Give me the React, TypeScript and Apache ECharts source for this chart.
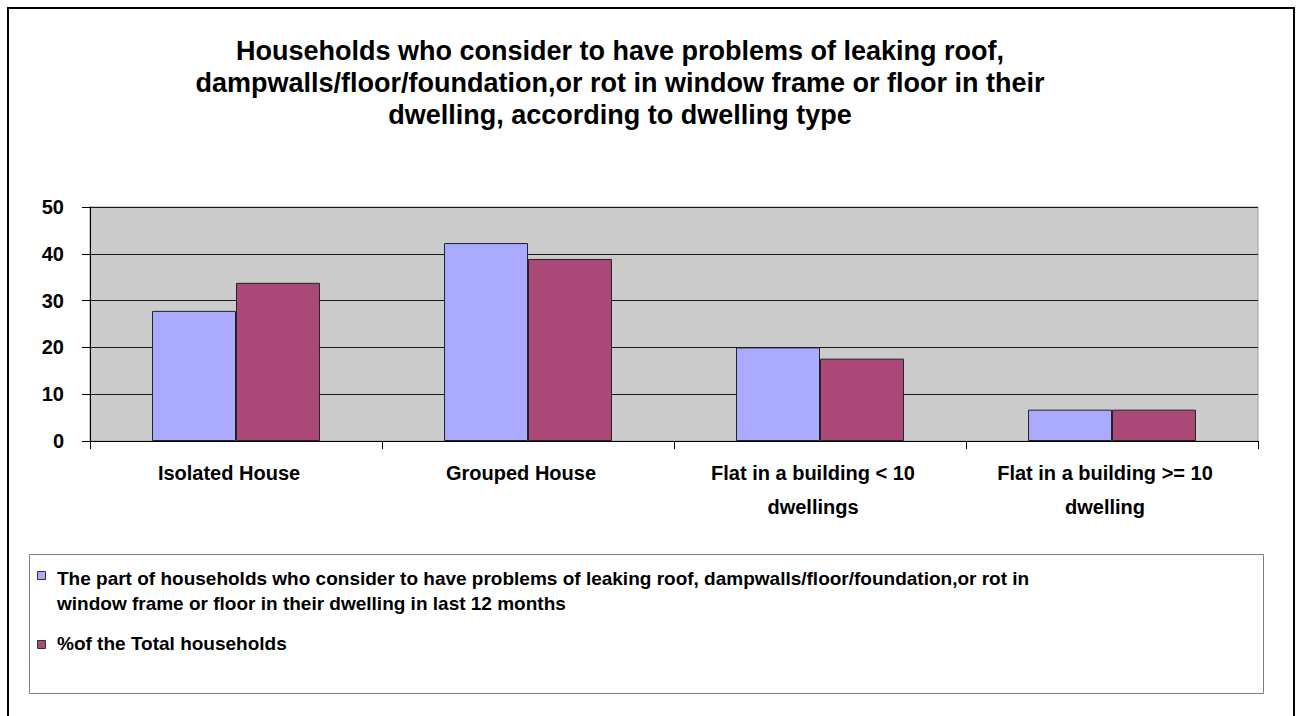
import React, { useEffect, useRef } from "react";
import * as echarts from "echarts";

const titleText =
  "Households who consider to have problems of leaking roof,\ndampwalls/floor/foundation,or rot in window frame or floor in their\ndwelling, according to dwelling type";

const categories = [
  "Isolated House",
  "Grouped House",
  "Flat in a building < 10\ndwellings",
  "Flat in a building >= 10\ndwelling",
];

const seriesNames = [
  "The part of households who consider to have problems of leaking roof, dampwalls/floor/foundation,or rot in\nwindow frame or floor in their dwelling in last 12 months",
  "%of the Total households",
];

const partValues = [27.8, 42.3, 20.0, 6.7];
const totalValues = [33.8, 38.9, 17.6, 6.7];

const yTicks = { min: 0, max: 50, interval: 10 };

const colors = ["#AAAAFF", "#AA4977"];
const FONT = "'Liberation Sans', Arial, sans-serif";

export default function App() {
  const ref = useRef<HTMLDivElement>(null);

  useEffect(() => {
    if (!ref.current) return;
    const chart = echarts.init(ref.current, null, { renderer: "svg" });
    chart.setOption({
      animation: false,
      backgroundColor: "#ffffff",
      title: {
        text: titleText,
        left: 615,
        top: 30,
        textAlign: "center",
        textStyle: {
          fontFamily: FONT,
          fontSize: 27,
          fontWeight: "bold",
          lineHeight: 32,
          color: "#000",
        },
      },
      grid: {
        left: 90,
        right: 40,
        top: 207,
        bottom: 275,
        show: true,
        backgroundColor: "#CBCBCB",
        borderColor: "#9a9a9a",
        borderWidth: 1,
      },
      legend: {
        orient: "vertical",
        left: 32,
        top: 561,
        itemWidth: 15,
        itemHeight: 9,
        itemGap: 15,
        icon: "none",
        selectedMode: false,
        data: seriesNames,
        textStyle: {
          fontFamily: FONT,
          fontSize: 19,
          fontWeight: "bold",
          lineHeight: 25,
          color: "#000",
        },
      },
      xAxis: {
        type: "category",
        data: categories,
        axisLine: { lineStyle: { color: "#000", width: 1 } },
        axisTick: { show: true, length: 8, lineStyle: { color: "#000" } },
        axisLabel: {
          interval: 0,
          margin: 15,
          padding: [0, 14, 0, 0],
          fontFamily: FONT,
          fontSize: 20,
          fontWeight: "bold",
          lineHeight: 34,
          color: "#000",
        },
      },
      yAxis: {
        type: "value",
        min: yTicks.min,
        max: yTicks.max,
        interval: yTicks.interval,
        axisLine: { show: true, lineStyle: { color: "#000", width: 1 } },
        axisTick: { show: true, length: 8, lineStyle: { color: "#000" } },
        splitLine: { show: true, lineStyle: { color: "#1a1a1a", width: 1 } },
        axisLabel: {
          margin: 26,
          fontFamily: FONT,
          fontSize: 20,
          fontWeight: "bold",
          color: "#000",
        },
      },
      series: [
        {
          name: seriesNames[0],
          type: "bar",
          data: partValues,
          barGap: "0%",
          barCategoryGap: "42.5%",
          itemStyle: { color: colors[0], borderColor: "#222", borderWidth: 1 },
        },
        {
          name: seriesNames[1],
          type: "bar",
          data: totalValues,
          barGap: "0%",
          barCategoryGap: "42.5%",
          itemStyle: { color: colors[1], borderColor: "#222", borderWidth: 1 },
        },
      ],
      graphic: [
        {
          type: "rect",
          shape: { x: 8, y: 8, width: 1286, height: 720 },
          style: { fill: "none", stroke: "#000", lineWidth: 2 },
          silent: true,
        },
        {
          type: "rect",
          shape: { x: 29.5, y: 554.5, width: 1234, height: 139 },
          style: { fill: "none", stroke: "#808080", lineWidth: 1 },
          silent: true,
        },
        {
          type: "rect",
          shape: { x: 37.5, y: 571.5, width: 8, height: 8 },
          style: { fill: colors[0], stroke: "#333", lineWidth: 1 },
          silent: true,
        },
        {
          type: "rect",
          shape: { x: 37.5, y: 640.5, width: 8, height: 8 },
          style: { fill: colors[1], stroke: "#333", lineWidth: 1 },
          silent: true,
        },
      ],
    });
    return () => chart.dispose();
  }, []);

  return (
    <div
      ref={ref}
      style={{ position: "absolute", left: 0, top: 0, width: 1298, height: 716 }}
    />
  );
}
